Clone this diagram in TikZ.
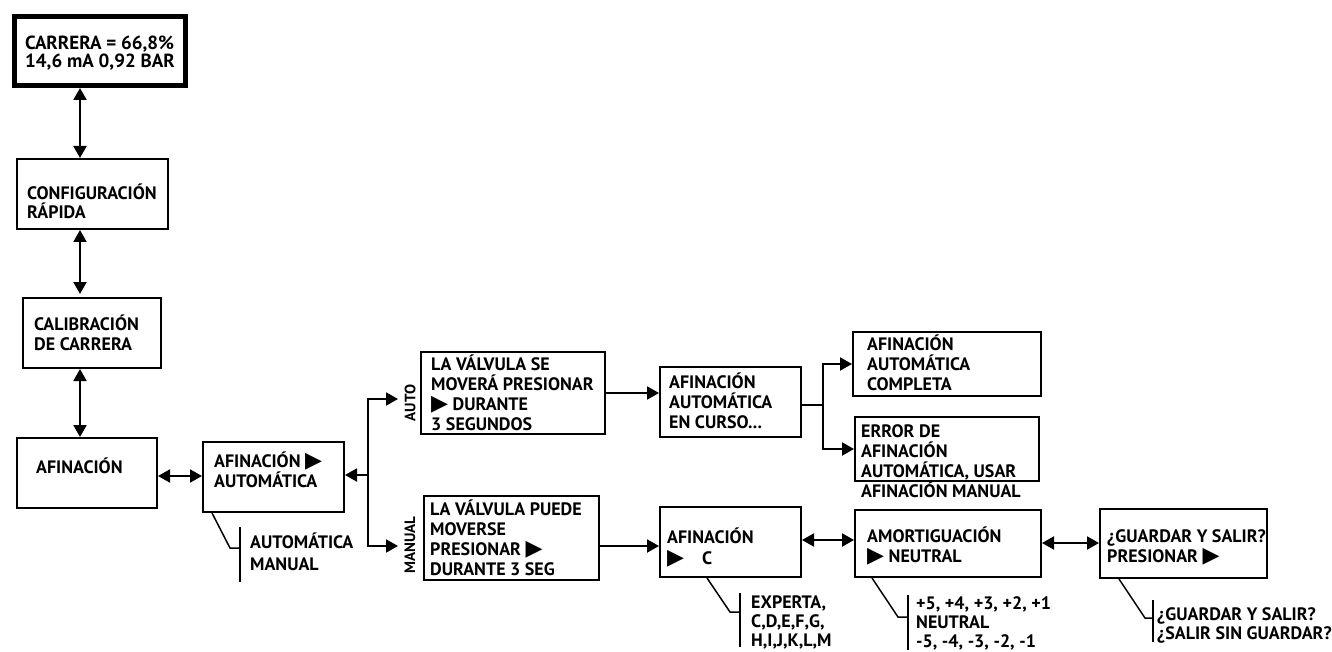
\documentclass[tikz,border=0pt]{standalone}
\usepackage{fontspec}
\setmainfont{PT Sans}
\newfontfamily\symfont{DejaVu Sans}
\usetikzlibrary{arrows.meta}
\newcommand{\tri}{{\symfont\fontsize{22}{20}\selectfont\char"25B6}}
\begin{document}
\begin{tikzpicture}[x=1pt,y=-1pt,
  box/.style={draw, line width=2pt, inner sep=0pt},
  txt/.style={anchor=base west, align=left, inner sep=0pt, font=\fontsize{18}{20}\selectfont\bfseries},
  arr/.style={line width=2pt, -{Triangle[length=12pt,width=13pt]}},
  darr/.style={line width=2pt, {Triangle[length=12pt,width=13pt]}-{Triangle[length=12pt,width=13pt]}},
  brk/.style={line width=1.5pt},
  side/.style={font=\fontsize{15}{17}\selectfont\bfseries, rotate=90, inner sep=0pt}]
\useasboundingbox (0,0) rectangle (1332,652);

% boxes
\node[box, line width=5pt, minimum width=171pt, minimum height=69pt] (b1) at (100,51) {};
\node[box, minimum width=151pt, minimum height=70pt] (cfg) at (92.5,194) {};
\node[box, minimum width=138pt, minimum height=70pt] (cal) at (92,333) {};
\node[box, minimum width=140pt, minimum height=70pt] (afn) at (87,473) {};
\node[box, minimum width=141pt, minimum height=70pt] (aa) at (273.5,477) {};
\node[box, minimum width=184pt, minimum height=82pt] (auto) at (513,393) {};
\node[box, minimum width=141pt, minimum height=70pt] (curso) at (730.5,402) {};
\node[box, minimum width=188pt, minimum height=64pt] (comp) at (947,364) {};
\node[box, minimum width=184pt, minimum height=64pt] (err) at (947,449) {};
\node[box, minimum width=175pt, minimum height=84pt] (man) at (511.5,538) {};
\node[box, minimum width=141pt, minimum height=70pt] (afc) at (730.5,542) {};
\node[box, minimum width=186pt, minimum height=67pt] (amo) at (948,543.5) {};
\node[box, minimum width=167pt, minimum height=69pt] (gua) at (1183.5,543.5) {};

% texts (anchor = baseline of the last line)
\node[txt, font=\fontsize{19}{18}\selectfont\bfseries] (t1) at (25,68) {CARRERA = 66,8\%\\14,6 mA 0,92 BAR};
\node[txt] (tcfg) at (27,219) {CONFIGURACIÓN\\RÁPIDA};
\node[txt] (tcal) at (34,350) {CALIBRACIÓN\\DE CARRERA};
\node[txt] (tafn) at (36,473) {AFINACIÓN};
\node[txt] (taa) at (214,487) {AFINACIÓN \tri\\AUTOMÁTICA};
\node[txt] (tauto) at (431,430) {LA VÁLVULA SE\\MOVERÁ PRESIONAR\\\tri\ DURANTE\\3 SEGUNDOS};
\node[txt] (tcurso) at (669,428) {AFINACIÓN\\AUTOMÁTICA\\EN CURSO...};
\node[txt] (tcomp) at (867,390) {AFINACIÓN\\AUTOMÁTICA\\COMPLETA};
\node[txt] (terr) at (861,497) {ERROR DE\\AFINACIÓN\\AUTOMÁTICA, USAR\\AFINACIÓN MANUAL};
\node[txt] (tman) at (430,575) {LA VÁLVULA PUEDE\\MOVERSE\\PRESIONAR \tri\\DURANTE 3 SEG};
\node[txt, font=\fontsize{18}{21}\selectfont\bfseries] (tafc) at (667,564) {AFINACIÓN\\\tri\hspace{18pt}C};
\node[txt] (tamo) at (867,562) {AMORTIGUACIÓN\\\tri\ NEUTRAL};
\node[txt] (tgua) at (1107,562) {¿GUARDAR Y SALIR?\\PRESIONAR \tri};
\node[txt, font=\fontsize{18}{22}\selectfont\bfseries] (oaa) at (250,570) {AUTOMÁTICA\\MANUAL};
\node[txt, font=\fontsize{18}{19}\selectfont\bfseries] (oafc) at (751,646) {EXPERTA,\\C,D,E,F,G,\\H,I,J,K,L,M};
\node[txt, font=\fontsize{18}{19}\selectfont\bfseries] (oamo) at (916,647) {+5, +4, +3, +2, +1\\NEUTRAL\\-5, -4, -3, -2, -1};
\node[txt, font=\fontsize{18}{19}\selectfont\bfseries] (ogua) at (1157,639) {¿GUARDAR Y SALIR?\\¿SALIR SIN GUARDAR?};
\node[side] (lauto) at (410,403) {AUTO};
\node[side] (lman) at (410,545) {MANUAL};

% vertical chain
\coordinate (vx) at (80,0);
\draw[darr] (b1.south -| vx) -- (cfg.north -| vx);
\draw[darr] (cfg.south -| vx) -- ([yshift=3pt]cal.north -| vx);
\draw[darr] (cal.south -| vx) -- (afn.north -| vx);
\coordinate (ya) at (0,476);
\draw[darr] (afn.east |- ya) -- (aa.west |- ya);

% auto/manual branch
\coordinate (j1) at (368,475);
\coordinate (tA) at (398,399);
\coordinate (tM) at (398,546);
\draw[arr] (j1) -- (aa.east |- j1);
\draw[arr] (j1) |- (tA);
\draw[arr] (j1) |- (tM);

\draw[arr] (auto.east) -- (curso.west |- auto.east);
\coordinate (j2) at (823,405);
\draw[line width=2pt] (curso.east |- j2) -- (j2);
\draw[arr] (j2) |- (comp.west);
\draw[arr] (j2) |- (err.west);

\coordinate (ym) at (0,546);
\draw[arr] (man.east |- ym) -- (afc.west |- ym);
\coordinate (yc) at (0,540);
\draw[darr] (afc.east |- yc) -- (amo.west |- yc);
\coordinate (yg) at (0,543);
\draw[darr] (amo.east |- yg) -- (gua.west |- yg);

% option brackets
\coordinate (k1) at (230,548);
\coordinate (v1a) at (240,527);
\coordinate (v1b) at (240,582);
\draw[brk] ([xshift=10pt]aa.south west) -- (k1) -- (k1 -| v1a);
\draw[brk] (v1a) -- (v1b);

\coordinate (k2) at (730,612);
\coordinate (v2a) at (740,593);
\coordinate (v2b) at (740,647);
\draw[brk] ([xshift=48pt]afc.south west) -- (k2) -- (k2 -| v2a);
\draw[brk] (v2a) -- (v2b);

\coordinate (k3) at (898,617);
\coordinate (v3a) at (908,595);
\coordinate (v3b) at (908,650);
\draw[brk] ([xshift=18pt]amo.south west) -- (k3) -- (k3 -| v3a);
\draw[brk] (v3a) -- (v3b);

\coordinate (k4) at (1145,618);
\coordinate (v4a) at (1153,600);
\coordinate (v4b) at (1153,642);
\draw[brk] ([xshift=20pt]gua.south west) -- (k4) -- (k4 -| v4a);
\draw[brk] (v4a) -- (v4b);
\end{tikzpicture}
\end{document}
